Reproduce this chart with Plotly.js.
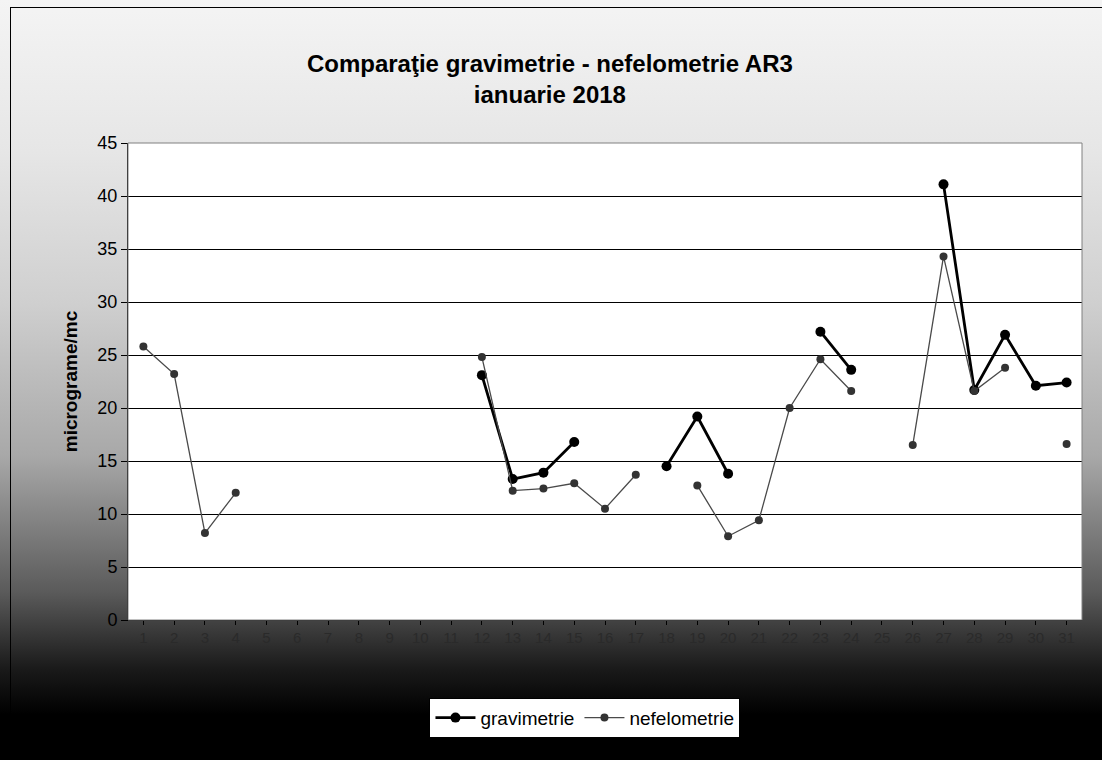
<!DOCTYPE html>
<html>
<head>
<meta charset="utf-8">
<script src="https://cdn.plot.ly/plotly-3.0.1.min.js"></script>
<style>
  html, body { margin: 0; padding: 0; background: #ffffff; }
  #wrap {
    position: relative; width: 1102px; height: 760px; overflow: hidden;
    background: linear-gradient(to bottom, #f4f4f4 0%, #e6e6e6 20%, #cfcfcf 40%, #a8a8a8 60%, #5a5a5a 78%, #1a1a1a 88%, #000000 94%, #000000 100%);
  }
  #frame { position: absolute; left: 10px; top: 7px; width: 1100px; height: 760px; border-left: 1px solid #000; border-top: 1px solid #000; pointer-events: none; }
  #chart { position: absolute; left: 0; top: 0; width: 1102px; height: 760px; }
</style>
</head>
<body>
<div id="wrap">
  <div id="chart"></div>
  <div id="frame"></div>
</div>
<script>
var days = [1,2,3,4,5,6,7,8,9,10,11,12,13,14,15,16,17,18,19,20,21,22,23,24,25,26,27,28,29,30,31];
var gravimetrie = [null,null,null,null,null,null,null,null,null,null,null,
  23.1,13.3,13.9,16.8,null,null,14.5,19.2,13.8,null,null,27.2,23.6,null,null,41.1,21.7,26.9,22.1,22.4];
var nefelometrie = [25.8,23.2,8.2,12.0,null,null,null,null,null,null,null,
  24.8,12.2,12.4,12.9,10.5,13.7,null,12.7,7.9,9.4,20.0,24.6,21.6,null,16.5,34.3,21.6,23.8,null,16.6];
var yTicks = [0,5,10,15,20,25,30,35,40,45];

var traces = [
  {
    x: days, y: gravimetrie, name: 'gravimetrie', type: 'scatter', mode: 'lines+markers',
    connectgaps: false,
    line: {color: '#000000', width: 2.8},
    marker: {color: '#000000', size: 10, symbol: 'circle'}
  },
  {
    x: days, y: nefelometrie, name: 'nefelometrie', type: 'scatter', mode: 'lines+markers',
    connectgaps: false,
    line: {color: '#4a4a4a', width: 1.3},
    marker: {color: '#333333', size: 8, symbol: 'circle'}
  }
];

var layout = {
  width: 1102, height: 760,
  paper_bgcolor: 'rgba(0,0,0,0)',
  plot_bgcolor: '#ffffff',
  margin: {l: 128, r: 20, t: 143, b: 140},
  font: {family: 'Arial, "Liberation Sans", sans-serif', color: '#000000'},
  title: {
    text: '<b>Comparaţie gravimetrie - nefelometrie AR3<br>ianuarie 2018</b>',
    font: {size: 24, color: '#000000'},
    x: 0.499, xanchor: 'center', y: 0.905, yanchor: 'top'
  },
  xaxis: {
    range: [0.5, 31.5],
    tickmode: 'array', tickvals: days, ticktext: days.map(String),
    tickfont: {size: 15, color: '#2a2a2a'},
    showgrid: false, zeroline: false,
    showline: true, linecolor: '#000000', linewidth: 1, mirror: false,
    ticks: 'outside', ticklen: 4, tickcolor: '#000000'
  },
  yaxis: {
    range: [0, 45], tickmode: 'array', tickvals: yTicks,
    tickfont: {size: 18, color: '#000000'},
    showgrid: true, gridcolor: '#000000', gridwidth: 1,
    zeroline: false,
    showline: true, linecolor: '#000000', linewidth: 1,
    ticks: 'outside', ticklen: 6, tickcolor: '#000000',
    title: {text: '<b>micrograme/mc</b>', font: {size: 19, color: '#000000'}, standoff: 14}
  },
  shapes: [
    {type: 'rect', xref: 'paper', yref: 'paper', x0: 0, x1: 1, y0: 0, y1: 1,
     line: {color: '#808080', width: 1}, fillcolor: 'rgba(0,0,0,0)'}
  ],
  showlegend: true,
  legend: {
    orientation: 'h', x: 0.479, xanchor: 'center', y: -0.163, yanchor: 'top',
    bgcolor: '#ffffff', bordercolor: '#000000', borderwidth: 1,
    font: {size: 19, color: '#000000'}, itemwidth: 40
  }
};

Plotly.newPlot('chart', traces, layout, {displayModeBar: false, staticPlot: true});
</script>
</body>
</html>
